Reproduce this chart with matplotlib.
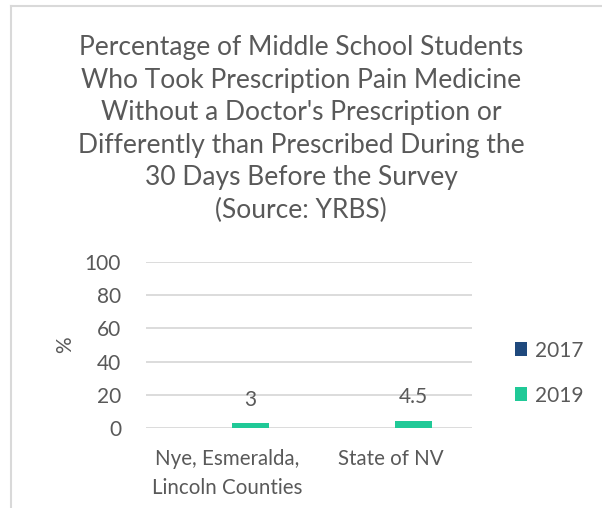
import numpy as np
import matplotlib.pyplot as plt
from matplotlib.lines import Line2D

categories = ['Nye, Esmeralda,\nLincoln Counties', 'State of NV']
values_2017 = [np.nan, np.nan]
values_2019 = [3, 4.5]
labels_2019 = ['3', '4.5']
years = ['2017', '2019']
colors = ['#1f497d', '#20c997']

plt.rcParams['font.family'] = ['Lato', 'DejaVu Sans']
text_color = '#595959'

fig = plt.figure(figsize=(6.02, 5.08), dpi=100)
ax = fig.add_axes([146 / 602, 1 - 428 / 508, 326 / 602, 166 / 508])

x = np.arange(len(categories))
width = 0.227
offset = 0.141
ax.bar(x - offset, values_2017, width, color=colors[0], label=years[0])
bars = ax.bar(x + offset, values_2019, width, color=colors[1], label=years[1])

for rect, lab in zip(bars, labels_2019):
    ax.text(rect.get_x() + rect.get_width() / 2, rect.get_height() + 14, lab,
            ha='center', va='center', fontsize=15, color=text_color)

ax.set_xlim(-0.5, 1.5)
ax.set_ylim(0, 100)
ax.set_yticks(range(0, 101, 20))
ax.set_xticks(x)
ax.set_xticklabels(categories, fontsize=14.8, color=text_color, linespacing=1.55)
ax.tick_params(axis='y', labelsize=15, colors=text_color, length=0, pad=18)
ax.tick_params(axis='x', length=0, pad=15)
ax.grid(axis='y', color='#d9d9d9', linewidth=1.3)
ax.set_axisbelow(True)
for s in ax.spines.values():
    s.set_visible(False)

ax.set_ylabel('%', fontsize=15, color=text_color)
ax.yaxis.set_label_coords(-0.218, 0.5)

fig.text(0.5, 1 - 129 / 508, "Percentage of Middle School Students\n"
         "Who Took Prescription Pain Medicine\n"
         "Without a Doctor's Prescription or\n"
         "Differently than Prescribed During the\n"
         "30 Days Before the Survey\n(Source: YRBS)",
         ha='center', va='center', fontsize=19, color=text_color, linespacing=1.38)

ax.legend(loc='center left', bbox_to_anchor=(1.073, 0.331), frameon=False,
          fontsize=15, labelcolor=text_color, handlelength=0.62, handleheight=0.62,
          handletextpad=0.35, labelspacing=1.2)

fig.add_artist(Line2D([11 / 602, 11 / 602], [0, 1 - 6 / 508], color='#d9d9d9', linewidth=1.5))
fig.add_artist(Line2D([11 / 602, 1], [1 - 6 / 508, 1 - 6 / 508], color='#d9d9d9', linewidth=1.5))

fig.savefig('out.png', dpi=100)
